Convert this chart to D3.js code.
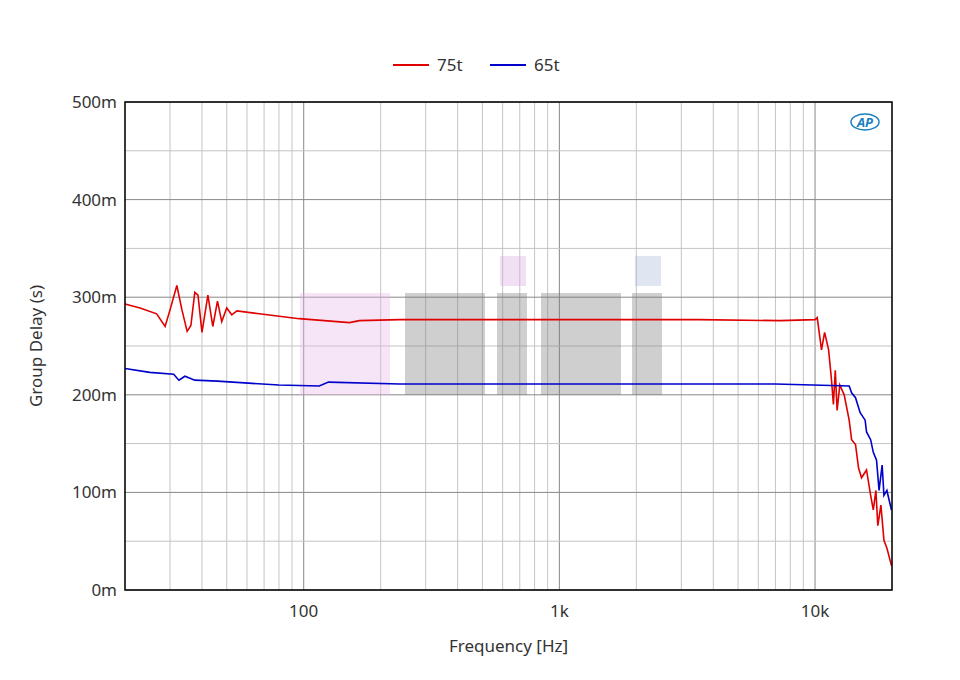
<!DOCTYPE html>
<html><head><meta charset="utf-8">
<script src="https://cdn.jsdelivr.net/npm/d3@7"></script>
<style>body{margin:0;background:#fff;font-family:"Noto Sans",sans-serif}</style>
</head><body><svg id="c" width="960" height="680"></svg>
<script>
const seriesNames = ["75t", "65t"];
const seriesColors = ["#e00000", "#0000cc"];
const red75 = [[20,293],[22.9,289],[26.6,283],[28.7,270],[30,287],[31.9,312],[33.4,287],[35,265],[36.2,271],[37.5,305],[38.6,302],[40,264],[42.2,302],[44.1,270],[46,296],[47.8,275],[50,289],[52.3,282],[54.8,286],[67,283],[96,278],[151,274],[165,276],[237,277],[582,277],[3500,277],[7300,276],[10000,277],[10200,279],[10600,246],[10900,264],[11300,246],[11600,215],[11800,190],[12000,225],[12200,184],[12500,210],[13000,200],[13600,174],[13900,154],[14400,149],[14800,125],[15200,115],[15900,123],[16500,97],[16900,82],[17300,102],[17600,66],[18100,87],[18600,51],[19100,43],[19900,25]];
const blue65 = [[20,227],[25,223],[31,221],[32.5,215],[34.3,219],[37.5,215],[46,214],[80,210],[115,209],[125,213],[237,211],[7000,211],[13600,209],[13900,202],[14400,197],[15000,182],[15700,174],[15900,162],[16500,154],[16900,141],[17400,133],[17800,102],[18300,128],[18600,97],[19100,102],[19900,82]];
const yTicks = [0,100,200,300,400,500];
const xTickLabels = [[100,"100"],[1000,"1k"],[10000,"10k"]];

const svg = d3.select("#c");
const L=125,R=892,T=102,B=590;
const x = d3.scaleLog().domain([20,20000]).range([L,R]);
const y = d3.scaleLinear().domain([0,500]).range([B,T]);
const g = svg.append("g");
// minor grid
const minors=[];
for(let d=10;d<=10000;d*=10) for(let k=1;k<10;k++){const f=d*k; if(f>=20&&f<=20000) minors.push(f);}
g.selectAll(".vx").data(minors).join("line").attr("x1",d=>x(d)).attr("x2",d=>x(d)).attr("y1",T).attr("y2",B)
 .attr("stroke",d=>[100,1000,10000].includes(d)?"#888":"#c4c4c4").attr("stroke-width",1);
const hy=d3.range(0,501,50);
g.selectAll(".hy").data(hy).join("line").attr("x1",L).attr("x2",R).attr("y1",d=>y(d)).attr("y2",d=>y(d))
 .attr("stroke",d=>d%100===0?"#888":"#c4c4c4");
// watermark (faint)
const wm=svg.append("g").attr("opacity",0.35);
wm.append("rect").attr("x",300).attr("y",293).attr("width",90).attr("height",102).attr("fill","#e8b6e8");
wm.append("rect").attr("x",405).attr("y",293).attr("width",80).attr("height",102).attr("fill","#777");
wm.append("rect").attr("x",497).attr("y",293).attr("width",30).attr("height",102).attr("fill","#777");
wm.append("rect").attr("x",541).attr("y",293).attr("width",80).attr("height",102).attr("fill","#777");
wm.append("rect").attr("x",632).attr("y",293).attr("width",30).attr("height",102).attr("fill","#777");
wm.append("rect").attr("x",500).attr("y",256).attr("width",26).attr("height",30).attr("fill","#d9a6e0");
wm.append("rect").attr("x",635).attr("y",256).attr("width",26).attr("height",30).attr("fill","#a6b6d9");

const line=d3.line().x(d=>x(d[0])).y(d=>y(d[1]));
[red75,blue65].forEach((s,i)=>svg.append("path").attr("d",line(s)).attr("fill","none").attr("stroke",seriesColors[i]).attr("stroke-width",1.6));
svg.append("rect").attr("x",L).attr("y",T).attr("width",R-L).attr("height",B-T).attr("fill","none").attr("stroke","#000").attr("stroke-width",1.5);
// y labels
svg.selectAll(".yl").data(yTicks).join("text").attr("x",L-8).attr("y",d=>y(d)+6).attr("text-anchor","end")
 .attr("font-size",17).attr("fill","#333").text(d=>d+"m");
svg.selectAll(".xl").data(xTickLabels).join("text").attr("x",d=>x(d[0])).attr("y",B+27).attr("text-anchor","middle")
 .attr("font-size",17).attr("fill","#333").text(d=>d[1]);
svg.append("text").attr("x",(L+R)/2).attr("y",652).attr("text-anchor","middle").attr("font-size",17).attr("fill","#333").text("Frequency [Hz]");
svg.append("text").attr("transform",`translate(42,${(T+B)/2}) rotate(-90)`).attr("text-anchor","middle").attr("font-size",17).attr("fill","#333").text("Group Delay (s)");
// legend
const lg=[{x:393},{x:490}];
seriesNames.forEach((n,i)=>{
 svg.append("line").attr("x1",lg[i].x).attr("x2",lg[i].x+36).attr("y1",65).attr("y2",65).attr("stroke",seriesColors[i]).attr("stroke-width",2);
 svg.append("text").attr("x",lg[i].x+44).attr("y",71).attr("font-size",17).attr("fill","#333").text(n);
});
// AP logo
svg.append("ellipse").attr("cx",865).attr("cy",122).attr("rx",14).attr("ry",8).attr("fill","none").attr("stroke","#1a7fc0").attr("stroke-width",1.5);
svg.append("text").attr("x",865).attr("y",127).attr("text-anchor","middle").attr("font-size",13).attr("font-style","italic").attr("font-weight","bold").attr("fill","#1a7fc0").text("AP");
</script></body></html>
